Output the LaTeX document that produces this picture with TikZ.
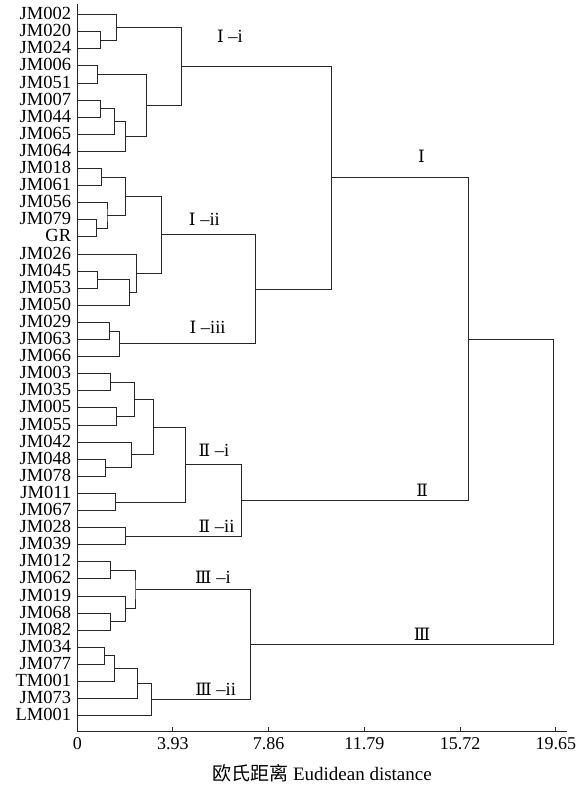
\documentclass[tikz,border=0pt]{standalone}
\usepackage{fontspec}
\setmainfont{Liberation Serif}
\newfontfamily\cjk{Noto Sans CJK SC}
\newfontfamily\numfont[Scale=0.92]{DejaVu Serif}

\begin{document}
\begin{tikzpicture}[x=24.35pt,y=-17.098pt]
        \tikzset{leaf/.style = {anchor=east, inner xsep=6pt, inner ysep=0pt, text height=12pt, text depth=2pt, font=\fontsize{18.5}{20}\selectfont}};
        \tikzset{edge/.style = {draw=black!85, line width=1pt}};
        \tikzset{group/.style = {inner sep=0pt, font=\fontsize{18.5}{20}\selectfont}};
        \tikzset{ticklab/.style = {inner sep=0pt, font=\fontsize{18}{20}\selectfont}};
        \useasboundingbox (-3.1745,-0.8597) rectangle (20.850,45.052);
        % leaves
        \node[leaf] (jm002) at (0,0) {JM002};
        \node[leaf] (jm020) at (0,1) {JM020};
        \node[leaf] (jm024) at (0,2) {JM024};
        \node[leaf] (jm006) at (0,3) {JM006};
        \node[leaf] (jm051) at (0,4) {JM051};
        \node[leaf] (jm007) at (0,5) {JM007};
        \node[leaf] (jm044) at (0,6) {JM044};
        \node[leaf] (jm065) at (0,7) {JM065};
        \node[leaf] (jm064) at (0,8) {JM064};
        \node[leaf] (jm018) at (0,9) {JM018};
        \node[leaf] (jm061) at (0,10) {JM061};
        \node[leaf] (jm056) at (0,11) {JM056};
        \node[leaf] (jm079) at (0,12) {JM079};
        \node[leaf] (gr) at (0,13) {GR};
        \node[leaf] (jm026) at (0,14) {JM026};
        \node[leaf] (jm045) at (0,15) {JM045};
        \node[leaf] (jm053) at (0,16) {JM053};
        \node[leaf] (jm050) at (0,17) {JM050};
        \node[leaf] (jm029) at (0,18) {JM029};
        \node[leaf] (jm063) at (0,19) {JM063};
        \node[leaf] (jm066) at (0,20) {JM066};
        \node[leaf] (jm003) at (0,21) {JM003};
        \node[leaf] (jm035) at (0,22) {JM035};
        \node[leaf] (jm005) at (0,23) {JM005};
        \node[leaf] (jm055) at (0,24) {JM055};
        \node[leaf] (jm042) at (0,25) {JM042};
        \node[leaf] (jm048) at (0,26) {JM048};
        \node[leaf] (jm078) at (0,27) {JM078};
        \node[leaf] (jm011) at (0,28) {JM011};
        \node[leaf] (jm067) at (0,29) {JM067};
        \node[leaf] (jm028) at (0,30) {JM028};
        \node[leaf] (jm039) at (0,31) {JM039};
        \node[leaf] (jm012) at (0,32) {JM012};
        \node[leaf] (jm062) at (0,33) {JM062};
        \node[leaf] (jm019) at (0,34) {JM019};
        \node[leaf] (jm068) at (0,35) {JM068};
        \node[leaf] (jm082) at (0,36) {JM082};
        \node[leaf] (jm034) at (0,37) {JM034};
        \node[leaf] (jm077) at (0,38) {JM077};
        \node[leaf] (tm001) at (0,39) {TM001};
        \node[leaf] (jm073) at (0,40) {JM073};
        \node[leaf] (lm001) at (0,41) {LM001};
        % merge points (height, mid of children)
        \coordinate (m1) at (0.96,1.5);
        \coordinate (m2) at (1.59,0.75);
        \coordinate (m3) at (0.84,3.5);
        \coordinate (m4) at (0.96,5.5);
        \coordinate (m5) at (1.52,6.25);
        \coordinate (m6) at (1.99,7.125);
        \coordinate (m7) at (2.86,5.3125);
        \coordinate (Ii) at (4.26,3.03125);
        \coordinate (m9) at (1.00,9.5);
        \coordinate (m10) at (0.78,12.5);
        \coordinate (m11) at (1.22,11.75);
        \coordinate (m12) at (1.97,10.625);
        \coordinate (m13) at (0.84,15.5);
        \coordinate (m14) at (2.15,16.25);
        \coordinate (m15) at (2.42,15.125);
        \coordinate (Iii) at (3.45,12.875);
        \coordinate (m17) at (1.31,18.5);
        \coordinate (Iiii) at (1.72,19.25);
        \coordinate (m19) at (7.31,16.0625);
        \coordinate (cI) at (10.45,9.546875);
        \coordinate (m21) at (1.38,21.5);
        \coordinate (m22) at (1.59,23.5);
        \coordinate (m23) at (2.34,22.5);
        \coordinate (m24) at (1.15,26.5);
        \coordinate (m25) at (2.23,25.75);
        \coordinate (m26) at (3.11,24.125);
        \coordinate (m27) at (1.58,28.5);
        \coordinate (IIi) at (4.44,26.3125);
        \coordinate (IIii) at (1.97,30.5);
        \coordinate (cII) at (6.75,28.40625);
        \coordinate (m31) at (1.38,32.5);
        \coordinate (m32) at (1.38,35.5);
        \coordinate (m33) at (1.97,34.75);
        \coordinate (IIIi) at (2.41,33.625);
        \coordinate (m35) at (1.10,37.5);
        \coordinate (m36) at (1.52,38.25);
        \coordinate (m37) at (2.46,39.125);
        \coordinate (IIIii) at (3.06,40.0625);
        \coordinate (cIII) at (7.10,36.84375);
        \coordinate (m41) at (16.07,18.9765625);
        \coordinate (root) at (19.55,27.91015625);
        % branches
        \draw[edge] (jm020.east) -| (m1) |- (jm024.east);
        \draw[edge] (jm002.east) -| (m2) |- (m1);
        \draw[edge] (jm006.east) -| (m3) |- (jm051.east);
        \draw[edge] (jm007.east) -| (m4) |- (jm044.east);
        \draw[edge] (m4) -| (m5) |- (jm065.east);
        \draw[edge] (m5) -| (m6) |- (jm064.east);
        \draw[edge] (m3) -| (m7) |- (m6);
        \draw[edge] (m2) -| (Ii) |- (m7);
        \draw[edge] (jm018.east) -| (m9) |- (jm061.east);
        \draw[edge] (jm079.east) -| (m10) |- (gr.east);
        \draw[edge] (jm056.east) -| (m11) |- (m10);
        \draw[edge] (m9) -| (m12) |- (m11);
        \draw[edge] (jm045.east) -| (m13) |- (jm053.east);
        \draw[edge] (m13) -| (m14) |- (jm050.east);
        \draw[edge] (jm026.east) -| (m15) |- (m14);
        \draw[edge] (m12) -| (Iii) |- (m15);
        \draw[edge] (jm029.east) -| (m17) |- (jm063.east);
        \draw[edge] (m17) -| (Iiii) |- (jm066.east);
        \draw[edge] (Iii) -| (m19) |- (Iiii);
        \draw[edge] (Ii) -| (cI) |- (m19);
        \draw[edge] (jm003.east) -| (m21) |- (jm035.east);
        \draw[edge] (jm005.east) -| (m22) |- (jm055.east);
        \draw[edge] (m21) -| (m23) |- (m22);
        \draw[edge] (jm048.east) -| (m24) |- (jm078.east);
        \draw[edge] (jm042.east) -| (m25) |- (m24);
        \draw[edge] (m23) -| (m26) |- (m25);
        \draw[edge] (jm011.east) -| (m27) |- (jm067.east);
        \draw[edge] (m26) -| (IIi) |- (m27);
        \draw[edge] (jm028.east) -| (IIii) |- (jm039.east);
        \draw[edge] (IIi) -| (cII) |- (IIii);
        \draw[edge] (jm012.east) -| (m31) |- (jm062.east);
        \draw[edge] (jm068.east) -| (m32) |- (jm082.east);
        \draw[edge] (jm019.east) -| (m33) |- (m32);
        \draw[edge] (m31) -| (IIIi) |- (m33);
        \draw[edge] (jm034.east) -| (m35) |- (jm077.east);
        \draw[edge] (m35) -| (m36) |- (tm001.east);
        \draw[edge] (m36) -| (m37) |- (jm073.east);
        \draw[edge] (m37) -| (IIIii) |- (lm001.east);
        \draw[edge] (IIIi) -| (cIII) |- (IIIii);
        \draw[edge] (cI) -| (m41) |- (cII);
        \draw[edge] (m41) -| (root) |- (cIII);
        % cluster labels
        \node[group] (lIi) at (6.27,1.29) {{\numfont Ⅰ} –i};
        \node[group] (lIii) at (5.22,11.95) {{\numfont Ⅰ} –ii};
        \node[group] (lIiii) at (5.35,18.31) {{\numfont Ⅰ} –iii};
        \node[group] (lIIi) at (5.61,25.46) {{\numfont Ⅱ} –i};
        \node[group] (lIIii) at (5.72,29.90) {{\numfont Ⅱ} –ii};
        \node[group] (lIIIi) at (5.57,32.93) {{\numfont Ⅲ} –i};
        \node[group] (lIIIii) at (5.68,39.44) {{\numfont Ⅲ} –ii};
        \node[group] (lI) at (14.14,8.31) {\numfont Ⅰ};
        \node[group] (lII) at (14.16,27.80) {\numfont Ⅱ};
        \node[group] (lIII) at (14.16,36.22) {\numfont Ⅲ};
        % axis
        \coordinate (top) at (0,-0.63);
        \coordinate (o) at (0,41.93);
        \coordinate (end) at (20.1,41.93);
        \draw[edge] (top) -- (o) -- (end);
        \foreach \t in {3.93,7.86,11.79,15.72,19.65}
            \draw[edge] (\t,41.93) -- ++(0,-0.29);
        \foreach \t [count=\i] in {0,3.93,7.86,11.79,15.72,19.65}
            \node[ticklab] (tick\i) at (\t,42.61) {\t};
        \node[ticklab, font=\fontsize{19}{21}\selectfont] (xlab) at (10.05,44.35) {{\cjk 欧氏距离} Eudidean distance};
    \end{tikzpicture}
\end{document}
